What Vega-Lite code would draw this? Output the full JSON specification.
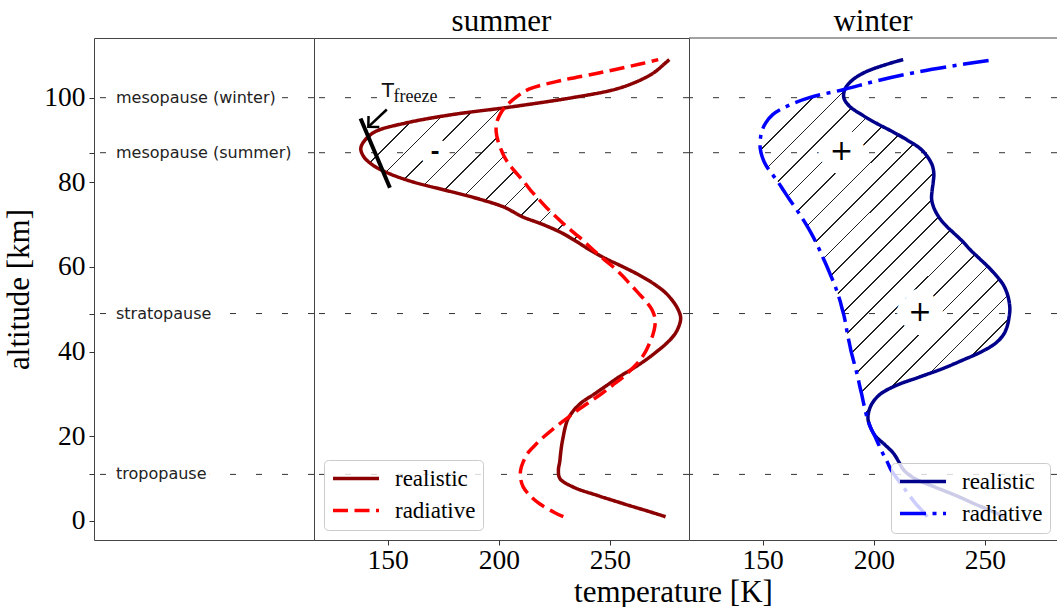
{
"$schema": "https://vega.github.io/schema/vega-lite/v6.json",
"padding": {"left": 3, "top": 5, "right": 0, "bottom": 0},
"background": "white",
"spacing": 0,
"bounds": "flush",
"config": {
  "font": "Liberation Serif",
  "view": {"stroke": "#444", "strokeWidth": 1},
  "axis": {"grid": false, "domain": false, "labelFont": "Liberation Serif", "labelFontSize": 27.5, "labelColor": "black", "tickColor": "#333", "tickSize": 5, "tickWidth": 1, "labelFlush": false, "labelOverlap": false, "titleFont": "Liberation Serif", "titleFontSize": 31, "titleFontWeight": "normal", "titleColor": "black"},
  "title": {"font": "Liberation Serif", "fontSize": 31, "fontWeight": "normal", "color": "black"},
  "legend": {"labelFont": "Liberation Serif", "labelFontSize": 23, "labelColor": "black", "symbolSize": 2116, "symbolStrokeWidth": 3.5, "symbolType": "stroke", "clipHeight": 23, "padding": 7, "rowPadding": 8, "labelOffset": 14, "fillColor": "rgba(255,255,255,0.8)", "strokeColor": "#cccccc", "cornerRadius": 4}
},
"datasets": {
  "levels": [
    {"name": "mesopause (winter)", "alt": 100},
    {"name": "mesopause (summer)", "alt": 87},
    {"name": "stratopause", "alt": 49},
    {"name": "tropopause", "alt": 11}
  ],
  "summer": [
    {"alt": 1, "realistic": 275, "radiative": 229},
    {"alt": 2, "realistic": 269, "radiative": 225},
    {"alt": 4, "realistic": 256.5, "radiative": 218.5},
    {"alt": 6, "realistic": 244.5, "radiative": 214},
    {"alt": 8, "realistic": 233.5, "radiative": 211},
    {"alt": 10, "realistic": 227.5, "radiative": 209.8},
    {"alt": 12, "realistic": 226.8, "radiative": 209.8},
    {"alt": 14, "realistic": 227.4, "radiative": 211},
    {"alt": 16, "realistic": 227.8, "radiative": 213},
    {"alt": 18, "realistic": 228.3, "radiative": 216.5},
    {"alt": 20, "realistic": 229, "radiative": 220.5},
    {"alt": 22, "realistic": 229.8, "radiative": 225},
    {"alt": 24, "realistic": 231, "radiative": 230},
    {"alt": 26, "realistic": 233.5, "radiative": 235},
    {"alt": 28, "realistic": 237.3, "radiative": 240.5},
    {"alt": 30, "realistic": 243, "radiative": 246},
    {"alt": 32, "realistic": 248.5, "radiative": 251},
    {"alt": 34, "realistic": 254, "radiative": 256},
    {"alt": 36, "realistic": 260.3, "radiative": 260},
    {"alt": 38, "realistic": 266, "radiative": 263.5},
    {"alt": 40, "realistic": 271, "radiative": 266},
    {"alt": 42, "realistic": 275.5, "radiative": 267.8},
    {"alt": 44, "realistic": 279, "radiative": 269.3},
    {"alt": 46, "realistic": 281, "radiative": 270.2},
    {"alt": 48, "realistic": 281.8, "radiative": 270.2},
    {"alt": 50, "realistic": 280.6, "radiative": 268.8},
    {"alt": 52, "realistic": 278.2, "radiative": 266},
    {"alt": 54, "realistic": 274.8, "radiative": 262.5},
    {"alt": 56, "realistic": 269.8, "radiative": 259},
    {"alt": 58, "realistic": 263.5, "radiative": 255.5},
    {"alt": 60, "realistic": 256, "radiative": 251.5},
    {"alt": 62, "realistic": 248, "radiative": 246.8},
    {"alt": 64, "realistic": 241, "radiative": 242.5},
    {"alt": 66, "realistic": 235, "radiative": 238.5},
    {"alt": 68, "realistic": 228.5, "radiative": 234},
    {"alt": 70, "realistic": 220, "radiative": 229.5},
    {"alt": 72, "realistic": 210, "radiative": 225.5},
    {"alt": 74, "realistic": 203, "radiative": 221.5},
    {"alt": 76, "realistic": 191.5, "radiative": 218},
    {"alt": 78, "realistic": 177, "radiative": 214.5},
    {"alt": 80, "realistic": 162, "radiative": 211.5},
    {"alt": 82, "realistic": 151, "radiative": 208.2},
    {"alt": 84, "realistic": 143.5, "radiative": 205},
    {"alt": 86, "realistic": 139.3, "radiative": 202.5},
    {"alt": 88, "realistic": 137.9, "radiative": 200.8},
    {"alt": 90, "realistic": 139.8, "radiative": 199.5},
    {"alt": 92, "realistic": 144.5, "radiative": 198.8},
    {"alt": 94, "realistic": 158, "radiative": 199},
    {"alt": 96, "realistic": 179, "radiative": 200.5},
    {"alt": 97.6, "realistic": 202.5, "radiative": 202.5},
    {"alt": 98, "realistic": 208, "radiative": 203.2},
    {"alt": 100, "realistic": 233, "radiative": 207.5},
    {"alt": 102, "realistic": 252.5, "radiative": 213.5},
    {"alt": 104, "realistic": 263, "radiative": 227.5},
    {"alt": 106, "realistic": 270, "radiative": 246.5},
    {"alt": 108, "realistic": 274.5, "radiative": 264},
    {"alt": 109, "realistic": 276.7, "radiative": 271.7}
  ],
  "winter": [
    {"alt": 1, "realistic": 258.5, "radiative": 224},
    {"alt": 2, "realistic": 254.5, "radiative": 222.5},
    {"alt": 4, "realistic": 245.5, "radiative": 219},
    {"alt": 6, "realistic": 237, "radiative": 216},
    {"alt": 8, "realistic": 227.5, "radiative": 213.3},
    {"alt": 10, "realistic": 218.5, "radiative": 210.5},
    {"alt": 12, "realistic": 213.5, "radiative": 207.8},
    {"alt": 14, "realistic": 211.2, "radiative": 206},
    {"alt": 16, "realistic": 208.8, "radiative": 204},
    {"alt": 18, "realistic": 205, "radiative": 202.2},
    {"alt": 20, "realistic": 200.8, "radiative": 200.5},
    {"alt": 22, "realistic": 198.6, "radiative": 198.6},
    {"alt": 24, "realistic": 197.4, "radiative": 197.2},
    {"alt": 26, "realistic": 197.8, "radiative": 196.2},
    {"alt": 28, "realistic": 199.5, "radiative": 195.3},
    {"alt": 30, "realistic": 203, "radiative": 194.5},
    {"alt": 32, "realistic": 210, "radiative": 193.6},
    {"alt": 34, "realistic": 220.5, "radiative": 192.8},
    {"alt": 36, "realistic": 231, "radiative": 191.8},
    {"alt": 38, "realistic": 240, "radiative": 190.8},
    {"alt": 40, "realistic": 248.5, "radiative": 189.8},
    {"alt": 42, "realistic": 254.8, "radiative": 189},
    {"alt": 44, "realistic": 258.3, "radiative": 188.2},
    {"alt": 46, "realistic": 260, "radiative": 187.5},
    {"alt": 48, "realistic": 260.8, "radiative": 186.8},
    {"alt": 50, "realistic": 261.2, "radiative": 185.8},
    {"alt": 52, "realistic": 260.8, "radiative": 184.8},
    {"alt": 54, "realistic": 259.8, "radiative": 183.6},
    {"alt": 56, "realistic": 258, "radiative": 182.2},
    {"alt": 58, "realistic": 255, "radiative": 180.6},
    {"alt": 60, "realistic": 251.5, "radiative": 179},
    {"alt": 62, "realistic": 247.5, "radiative": 177.3},
    {"alt": 64, "realistic": 243.5, "radiative": 175.6},
    {"alt": 66, "realistic": 240, "radiative": 173.8},
    {"alt": 68, "realistic": 236, "radiative": 171.8},
    {"alt": 70, "realistic": 232, "radiative": 169.6},
    {"alt": 72, "realistic": 229, "radiative": 167.2},
    {"alt": 74, "realistic": 227, "radiative": 164.7},
    {"alt": 76, "realistic": 226, "radiative": 162},
    {"alt": 78, "realistic": 226.2, "radiative": 159.5},
    {"alt": 80, "realistic": 226.7, "radiative": 157},
    {"alt": 82, "realistic": 227, "radiative": 154.2},
    {"alt": 84, "realistic": 226.3, "radiative": 151.5},
    {"alt": 86, "realistic": 224.2, "radiative": 149.8},
    {"alt": 88, "realistic": 220.8, "radiative": 148.9},
    {"alt": 90, "realistic": 215, "radiative": 148.9},
    {"alt": 92, "realistic": 208.3, "radiative": 149.6},
    {"alt": 94, "realistic": 201, "radiative": 151.3},
    {"alt": 96, "realistic": 194.5, "radiative": 154.5},
    {"alt": 98, "realistic": 189, "radiative": 161},
    {"alt": 100, "realistic": 186.5, "radiative": 171},
    {"alt": 102, "realistic": 187, "radiative": 187},
    {"alt": 104, "realistic": 190, "radiative": 201.5},
    {"alt": 106, "realistic": 196, "radiative": 219},
    {"alt": 108, "realistic": 206.5, "radiative": 241.5},
    {"alt": 109, "realistic": 213.2, "radiative": 254.5}
  ],
  "summer_signs": [{"T": 171.3, "alt": 87.2, "sign": "-"}],
  "winter_signs": [{"T": 185.5, "alt": 87.2, "sign": "+"}, {"T": 220.8, "alt": 49.1, "sign": "+"}],
  "freeze_marks": [
    {"part": "bar", "T1": 137.8, "a1": 95.1, "T2": 151, "a2": 78.7},
    {"part": "arrow", "T1": 149.6, "a1": 97.2, "T2": 141.3, "a2": 93.1}
  ],
  "freeze_label": [
    {"part": "T", "T": 147.3, "alt": 100.2, "txt": "T"},
    {"part": "sub", "T": 152.6, "alt": 99.0, "txt": "freeze"}
  ],
  "one": [{}]
},
"hconcat": [
  {
    "width": 220, "height": 502,
    "data": {"name": "levels"},
    "encoding": {
      "y": {"field": "alt", "type": "quantitative", "scale": {"domain": [-4.5, 114.1], "nice": false, "zero": false},
            "axis": {"values": [0, 11, 20, 40, 49, 60, 80, 87, 100], "labelExpr": "datum.value % 20 === 0 ? datum.label : ''", "title": "altitude [km]", "labelPadding": 4, "titlePadding": 8}}
    },
    "layer": [
      {"mark": {"type": "rule", "stroke": "#333", "strokeWidth": 1, "strokeDash": [6, 20]}, "encoding": {}},
      {"mark": {"type": "text", "align": "left", "baseline": "middle", "font": "DejaVu Sans", "fontSize": 16, "stroke": "white", "strokeWidth": 8, "strokeJoin": "round", "fill": "white"},
       "encoding": {"x": {"datum": 0.1, "type": "quantitative", "scale": {"domain": [0, 1]}, "axis": null}, "text": {"field": "name"}}},
      {"mark": {"type": "text", "align": "left", "baseline": "middle", "font": "DejaVu Sans", "fontSize": 16, "fill": "#222"},
       "encoding": {"x": {"datum": 0.1, "type": "quantitative", "scale": {"domain": [0, 1]}, "axis": null}, "text": {"field": "name"}}}
    ]
  },
  {
    "width": 375, "height": 502,
    "title": {"text": "summer", "baseline": "alphabetic", "offset": -24, "anchor": "middle"},
    "layer": [
      {"data": {"name": "levels"}, "mark": {"type": "rule", "stroke": "#333", "strokeWidth": 1, "strokeDash": [6, 20]},
       "encoding": {"y": {"field": "alt", "type": "quantitative", "scale": {"domain": [-4.5, 114.1], "nice": false, "zero": false}, "axis": null}}},
      {"data": {"name": "summer"}, "transform": [{"filter": "datum.alt >= 66 && datum.alt <= 97.6"}],
       "mark": {"type": "area", "orient": "horizontal", "interpolate": "catmull-rom", "opacity": 1,
         "fill": {"gradient": "linear", "x1": 0, "y1": 0, "x2": 1.177, "y2": 0.7043, "stops": [
           {"offset": 0, "color": "rgba(0,0,0,0)"},
           {"offset": 0.0335, "color": "rgba(0,0,0,0)"}, {"offset": 0.0335, "color": "#222"}, {"offset": 0.0379, "color": "#222"}, {"offset": 0.0379, "color": "rgba(0,0,0,0)"},
           {"offset": 0.1049, "color": "rgba(0,0,0,0)"}, {"offset": 0.1049, "color": "#222"}, {"offset": 0.1093, "color": "#222"}, {"offset": 0.1093, "color": "rgba(0,0,0,0)"},
           {"offset": 0.1764, "color": "rgba(0,0,0,0)"}, {"offset": 0.1764, "color": "#222"}, {"offset": 0.1808, "color": "#222"}, {"offset": 0.1808, "color": "rgba(0,0,0,0)"},
           {"offset": 0.2478, "color": "rgba(0,0,0,0)"}, {"offset": 0.2478, "color": "#222"}, {"offset": 0.2522, "color": "#222"}, {"offset": 0.2522, "color": "rgba(0,0,0,0)"},
           {"offset": 0.3192, "color": "rgba(0,0,0,0)"}, {"offset": 0.3192, "color": "#222"}, {"offset": 0.3236, "color": "#222"}, {"offset": 0.3236, "color": "rgba(0,0,0,0)"},
           {"offset": 0.3907, "color": "rgba(0,0,0,0)"}, {"offset": 0.3907, "color": "#222"}, {"offset": 0.3951, "color": "#222"}, {"offset": 0.3951, "color": "rgba(0,0,0,0)"},
           {"offset": 0.4621, "color": "rgba(0,0,0,0)"}, {"offset": 0.4621, "color": "#222"}, {"offset": 0.4665, "color": "#222"}, {"offset": 0.4665, "color": "rgba(0,0,0,0)"},
           {"offset": 0.5335, "color": "rgba(0,0,0,0)"}, {"offset": 0.5335, "color": "#222"}, {"offset": 0.5379, "color": "#222"}, {"offset": 0.5379, "color": "rgba(0,0,0,0)"},
           {"offset": 0.6049, "color": "rgba(0,0,0,0)"}, {"offset": 0.6049, "color": "#222"}, {"offset": 0.6093, "color": "#222"}, {"offset": 0.6093, "color": "rgba(0,0,0,0)"},
           {"offset": 0.6764, "color": "rgba(0,0,0,0)"}, {"offset": 0.6764, "color": "#222"}, {"offset": 0.6808, "color": "#222"}, {"offset": 0.6808, "color": "rgba(0,0,0,0)"},
           {"offset": 0.7478, "color": "rgba(0,0,0,0)"}, {"offset": 0.7478, "color": "#222"}, {"offset": 0.7522, "color": "#222"}, {"offset": 0.7522, "color": "rgba(0,0,0,0)"},
           {"offset": 0.8192, "color": "rgba(0,0,0,0)"}, {"offset": 0.8192, "color": "#222"}, {"offset": 0.8236, "color": "#222"}, {"offset": 0.8236, "color": "rgba(0,0,0,0)"},
           {"offset": 0.8907, "color": "rgba(0,0,0,0)"}, {"offset": 0.8907, "color": "#222"}, {"offset": 0.8951, "color": "#222"}, {"offset": 0.8951, "color": "rgba(0,0,0,0)"},
           {"offset": 0.9621, "color": "rgba(0,0,0,0)"}, {"offset": 0.9621, "color": "#222"}, {"offset": 0.9665, "color": "#222"}, {"offset": 0.9665, "color": "rgba(0,0,0,0)"},
           {"offset": 1, "color": "rgba(0,0,0,0)"}
         ]}},
       "encoding": {
         "y": {"field": "alt", "type": "quantitative", "scale": {"domain": [-4.5, 114.1], "nice": false, "zero": false}, "axis": null},
         "x": {"field": "radiative", "type": "quantitative", "scale": {"domain": [116.85, 285.55], "nice": false, "zero": false}, "axis": {"values": [150, 200, 250], "title": null, "labelPadding": 1}},
         "x2": {"field": "realistic"}
       }},
      {"data": {"name": "summer_signs"},
       "mark": {"type": "text", "font": "DejaVu Sans", "fontWeight": "bold", "fontSize": 22, "align": "center", "baseline": "middle", "stroke": "white", "strokeWidth": 22, "strokeJoin": "round", "fill": "white"},
       "encoding": {
         "x": {"field": "T", "type": "quantitative", "scale": {"domain": [116.85, 285.55], "nice": false, "zero": false}, "axis": {"values": [150, 200, 250], "title": null, "labelPadding": 1}},
         "y": {"field": "alt", "type": "quantitative", "scale": {"domain": [-4.5, 114.1], "nice": false, "zero": false}, "axis": null},
         "text": {"field": "sign"}}},
      {"data": {"name": "summer_signs"},
       "mark": {"type": "text", "font": "DejaVu Sans", "fontWeight": "bold", "fontSize": 22, "align": "center", "baseline": "middle", "fill": "black"},
       "encoding": {
         "x": {"field": "T", "type": "quantitative", "scale": {"domain": [116.85, 285.55], "nice": false, "zero": false}, "axis": {"values": [150, 200, 250], "title": null, "labelPadding": 1}},
         "y": {"field": "alt", "type": "quantitative", "scale": {"domain": [-4.5, 114.1], "nice": false, "zero": false}, "axis": null},
         "text": {"field": "sign"}}},
      {"data": {"name": "summer"}, "transform": [{"fold": ["realistic", "radiative"], "as": ["kind", "T"]}],
       "mark": {"type": "line", "strokeWidth": 3.5, "interpolate": "catmull-rom"},
       "encoding": {
         "x": {"field": "T", "type": "quantitative", "scale": {"domain": [116.85, 285.55], "nice": false, "zero": false}, "axis": {"values": [150, 200, 250], "title": null, "labelPadding": 1}},
         "y": {"field": "alt", "type": "quantitative", "scale": {"domain": [-4.5, 114.1], "nice": false, "zero": false}, "axis": null},
         "order": {"field": "alt", "type": "quantitative"},
         "color": {"field": "kind", "type": "nominal", "scale": {"domain": ["realistic", "radiative"], "range": ["#8b0000", "#ff0000"]}, "legend": {"title": null, "orient": "bottom-left", "offset": 10}},
         "strokeDash": {"field": "kind", "type": "nominal", "scale": {"domain": ["realistic", "radiative"], "range": [[1, 0], [15, 6.5]]}, "legend": {"title": null, "orient": "bottom-left", "offset": 10}}
       }},
      {"data": {"name": "freeze_marks"}, "transform": [{"filter": "datum.part === 'bar'"}],
       "mark": {"type": "rule", "stroke": "black", "strokeWidth": 4},
       "encoding": {
         "x": {"field": "T1", "type": "quantitative", "scale": {"domain": [116.85, 285.55], "nice": false, "zero": false}, "axis": {"values": [150, 200, 250], "title": null, "labelPadding": 1}},
         "x2": {"field": "T2"},
         "y": {"field": "a1", "type": "quantitative", "scale": {"domain": [-4.5, 114.1], "nice": false, "zero": false}, "axis": null},
         "y2": {"field": "a2"}}},
      {"data": {"name": "freeze_marks"}, "transform": [{"filter": "datum.part === 'arrow'"}],
       "mark": {"type": "rule", "stroke": "black", "strokeWidth": 2.5},
       "encoding": {
         "x": {"field": "T1", "type": "quantitative", "scale": {"domain": [116.85, 285.55], "nice": false, "zero": false}, "axis": {"values": [150, 200, 250], "title": null, "labelPadding": 1}},
         "x2": {"field": "T2"},
         "y": {"field": "a1", "type": "quantitative", "scale": {"domain": [-4.5, 114.1], "nice": false, "zero": false}, "axis": null},
         "y2": {"field": "a2"}}},
      {"data": {"name": "freeze_marks"}, "transform": [{"filter": "datum.part === 'arrow'"}],
       "mark": {"type": "point", "shape": "M -1 -1 L 0 0 L -1 1", "filled": false, "stroke": "black", "strokeWidth": 2.5, "size": 240, "angle": 136, "opacity": 1},
       "encoding": {
         "x": {"field": "T2", "type": "quantitative", "scale": {"domain": [116.85, 285.55], "nice": false, "zero": false}, "axis": {"values": [150, 200, 250], "title": null, "labelPadding": 1}},
         "y": {"field": "a2", "type": "quantitative", "scale": {"domain": [-4.5, 114.1], "nice": false, "zero": false}, "axis": null}}},
      {"data": {"name": "freeze_label"}, "transform": [{"filter": "datum.part === 'T'"}],
       "mark": {"type": "text", "font": "DejaVu Sans", "fontSize": 20, "align": "left", "baseline": "alphabetic", "stroke": "white", "strokeWidth": 7, "strokeJoin": "round", "fill": "white"},
       "encoding": {
         "x": {"field": "T", "type": "quantitative", "scale": {"domain": [116.85, 285.55], "nice": false, "zero": false}, "axis": {"values": [150, 200, 250], "title": null, "labelPadding": 1}},
         "y": {"field": "alt", "type": "quantitative", "scale": {"domain": [-4.5, 114.1], "nice": false, "zero": false}, "axis": null},
         "text": {"field": "txt"}}},
      {"data": {"name": "freeze_label"}, "transform": [{"filter": "datum.part === 'sub'"}],
       "mark": {"type": "text", "font": "Liberation Serif", "fontSize": 18, "align": "left", "baseline": "alphabetic", "stroke": "white", "strokeWidth": 7, "strokeJoin": "round", "fill": "white"},
       "encoding": {
         "x": {"field": "T", "type": "quantitative", "scale": {"domain": [116.85, 285.55], "nice": false, "zero": false}, "axis": {"values": [150, 200, 250], "title": null, "labelPadding": 1}},
         "y": {"field": "alt", "type": "quantitative", "scale": {"domain": [-4.5, 114.1], "nice": false, "zero": false}, "axis": null},
         "text": {"field": "txt"}}},
      {"data": {"name": "freeze_label"}, "transform": [{"filter": "datum.part === 'T'"}],
       "mark": {"type": "text", "font": "DejaVu Sans", "fontSize": 20, "align": "left", "baseline": "alphabetic", "fill": "#111"},
       "encoding": {
         "x": {"field": "T", "type": "quantitative", "scale": {"domain": [116.85, 285.55], "nice": false, "zero": false}, "axis": {"values": [150, 200, 250], "title": null, "labelPadding": 1}},
         "y": {"field": "alt", "type": "quantitative", "scale": {"domain": [-4.5, 114.1], "nice": false, "zero": false}, "axis": null},
         "text": {"field": "txt"}}},
      {"data": {"name": "freeze_label"}, "transform": [{"filter": "datum.part === 'sub'"}],
       "mark": {"type": "text", "font": "Liberation Serif", "fontSize": 18, "align": "left", "baseline": "alphabetic", "fill": "#111"},
       "encoding": {
         "x": {"field": "T", "type": "quantitative", "scale": {"domain": [116.85, 285.55], "nice": false, "zero": false}, "axis": {"values": [150, 200, 250], "title": null, "labelPadding": 1}},
         "y": {"field": "alt", "type": "quantitative", "scale": {"domain": [-4.5, 114.1], "nice": false, "zero": false}, "axis": null},
         "text": {"field": "txt"}}}
    ]
  },
  {
    "width": 368, "height": 502,
    "view": {"stroke": null},
    "title": {"text": "winter", "baseline": "alphabetic", "offset": -24, "anchor": "middle"},
    "layer": [
      {"data": {"name": "levels"}, "mark": {"type": "rule", "stroke": "#333", "strokeWidth": 1, "strokeDash": [6, 20]},
       "encoding": {"y": {"field": "alt", "type": "quantitative", "scale": {"domain": [-4.5, 114.1], "nice": false, "zero": false}, "axis": null}}},
      {"data": {"name": "one"}, "mark": {"type": "rule", "stroke": "#444", "strokeWidth": 1},
       "encoding": {"y": {"datum": 114.1, "type": "quantitative", "scale": {"domain": [-4.5, 114.1], "nice": false, "zero": false}, "axis": null}}},
      {"data": {"name": "winter"}, "transform": [{"filter": "datum.alt >= 22 && datum.alt <= 102"}],
       "mark": {"type": "area", "orient": "horizontal", "interpolate": "catmull-rom", "opacity": 1,
         "fill": {"gradient": "linear", "x1": 0, "y1": 0, "x2": 0.8297, "y2": 1.1256, "stops": [
           {"offset": 0, "color": "rgba(0,0,0,0)"},
           {"offset": 0.0194, "color": "rgba(0,0,0,0)"}, {"offset": 0.0194, "color": "#222"}, {"offset": 0.0222, "color": "#222"}, {"offset": 0.0222, "color": "rgba(0,0,0,0)"},
           {"offset": 0.0611, "color": "rgba(0,0,0,0)"}, {"offset": 0.0611, "color": "#222"}, {"offset": 0.0639, "color": "#222"}, {"offset": 0.0639, "color": "rgba(0,0,0,0)"},
           {"offset": 0.1028, "color": "rgba(0,0,0,0)"}, {"offset": 0.1028, "color": "#222"}, {"offset": 0.1056, "color": "#222"}, {"offset": 0.1056, "color": "rgba(0,0,0,0)"},
           {"offset": 0.1444, "color": "rgba(0,0,0,0)"}, {"offset": 0.1444, "color": "#222"}, {"offset": 0.1472, "color": "#222"}, {"offset": 0.1472, "color": "rgba(0,0,0,0)"},
           {"offset": 0.1861, "color": "rgba(0,0,0,0)"}, {"offset": 0.1861, "color": "#222"}, {"offset": 0.1889, "color": "#222"}, {"offset": 0.1889, "color": "rgba(0,0,0,0)"},
           {"offset": 0.2278, "color": "rgba(0,0,0,0)"}, {"offset": 0.2278, "color": "#222"}, {"offset": 0.2306, "color": "#222"}, {"offset": 0.2306, "color": "rgba(0,0,0,0)"},
           {"offset": 0.2694, "color": "rgba(0,0,0,0)"}, {"offset": 0.2694, "color": "#222"}, {"offset": 0.2722, "color": "#222"}, {"offset": 0.2722, "color": "rgba(0,0,0,0)"},
           {"offset": 0.3111, "color": "rgba(0,0,0,0)"}, {"offset": 0.3111, "color": "#222"}, {"offset": 0.3139, "color": "#222"}, {"offset": 0.3139, "color": "rgba(0,0,0,0)"},
           {"offset": 0.3528, "color": "rgba(0,0,0,0)"}, {"offset": 0.3528, "color": "#222"}, {"offset": 0.3556, "color": "#222"}, {"offset": 0.3556, "color": "rgba(0,0,0,0)"},
           {"offset": 0.3944, "color": "rgba(0,0,0,0)"}, {"offset": 0.3944, "color": "#222"}, {"offset": 0.3972, "color": "#222"}, {"offset": 0.3972, "color": "rgba(0,0,0,0)"},
           {"offset": 0.4361, "color": "rgba(0,0,0,0)"}, {"offset": 0.4361, "color": "#222"}, {"offset": 0.4389, "color": "#222"}, {"offset": 0.4389, "color": "rgba(0,0,0,0)"},
           {"offset": 0.4778, "color": "rgba(0,0,0,0)"}, {"offset": 0.4778, "color": "#222"}, {"offset": 0.4806, "color": "#222"}, {"offset": 0.4806, "color": "rgba(0,0,0,0)"},
           {"offset": 0.5194, "color": "rgba(0,0,0,0)"}, {"offset": 0.5194, "color": "#222"}, {"offset": 0.5222, "color": "#222"}, {"offset": 0.5222, "color": "rgba(0,0,0,0)"},
           {"offset": 0.5611, "color": "rgba(0,0,0,0)"}, {"offset": 0.5611, "color": "#222"}, {"offset": 0.5639, "color": "#222"}, {"offset": 0.5639, "color": "rgba(0,0,0,0)"},
           {"offset": 0.6028, "color": "rgba(0,0,0,0)"}, {"offset": 0.6028, "color": "#222"}, {"offset": 0.6056, "color": "#222"}, {"offset": 0.6056, "color": "rgba(0,0,0,0)"},
           {"offset": 0.6444, "color": "rgba(0,0,0,0)"}, {"offset": 0.6444, "color": "#222"}, {"offset": 0.6472, "color": "#222"}, {"offset": 0.6472, "color": "rgba(0,0,0,0)"},
           {"offset": 0.6861, "color": "rgba(0,0,0,0)"}, {"offset": 0.6861, "color": "#222"}, {"offset": 0.6889, "color": "#222"}, {"offset": 0.6889, "color": "rgba(0,0,0,0)"},
           {"offset": 0.7278, "color": "rgba(0,0,0,0)"}, {"offset": 0.7278, "color": "#222"}, {"offset": 0.7306, "color": "#222"}, {"offset": 0.7306, "color": "rgba(0,0,0,0)"},
           {"offset": 0.7694, "color": "rgba(0,0,0,0)"}, {"offset": 0.7694, "color": "#222"}, {"offset": 0.7722, "color": "#222"}, {"offset": 0.7722, "color": "rgba(0,0,0,0)"},
           {"offset": 0.8111, "color": "rgba(0,0,0,0)"}, {"offset": 0.8111, "color": "#222"}, {"offset": 0.8139, "color": "#222"}, {"offset": 0.8139, "color": "rgba(0,0,0,0)"},
           {"offset": 0.8528, "color": "rgba(0,0,0,0)"}, {"offset": 0.8528, "color": "#222"}, {"offset": 0.8556, "color": "#222"}, {"offset": 0.8556, "color": "rgba(0,0,0,0)"},
           {"offset": 0.8944, "color": "rgba(0,0,0,0)"}, {"offset": 0.8944, "color": "#222"}, {"offset": 0.8972, "color": "#222"}, {"offset": 0.8972, "color": "rgba(0,0,0,0)"},
           {"offset": 0.9361, "color": "rgba(0,0,0,0)"}, {"offset": 0.9361, "color": "#222"}, {"offset": 0.9389, "color": "#222"}, {"offset": 0.9389, "color": "rgba(0,0,0,0)"},
           {"offset": 0.9778, "color": "rgba(0,0,0,0)"}, {"offset": 0.9778, "color": "#222"}, {"offset": 0.9806, "color": "#222"}, {"offset": 0.9806, "color": "rgba(0,0,0,0)"},
           {"offset": 1, "color": "rgba(0,0,0,0)"}
         ]}},
       "encoding": {
         "y": {"field": "alt", "type": "quantitative", "scale": {"domain": [-4.5, 114.1], "nice": false, "zero": false}, "axis": null},
         "x": {"field": "radiative", "type": "quantitative", "scale": {"domain": [116.85, 282.4], "nice": false, "zero": false}, "axis": {"values": [150, 200, 250], "title": "temperature [K]", "titleX": -16, "titleY": 61, "titleBaseline": "alphabetic", "titleAlign": "center", "labelPadding": 1, "domain": true, "domainColor": "#444", "domainWidth": 1}},
         "x2": {"field": "realistic"}
       }},
      {"data": {"name": "winter_signs"},
       "mark": {"type": "text", "font": "DejaVu Sans", "fontSize": 28, "align": "center", "baseline": "middle", "stroke": "white", "strokeWidth": 28, "strokeJoin": "round", "fill": "white"},
       "encoding": {
         "x": {"field": "T", "type": "quantitative", "scale": {"domain": [116.85, 282.4], "nice": false, "zero": false}, "axis": {"values": [150, 200, 250], "title": "temperature [K]", "titleX": -16, "titleY": 61, "titleBaseline": "alphabetic", "titleAlign": "center", "labelPadding": 1, "domain": true, "domainColor": "#444", "domainWidth": 1}},
         "y": {"field": "alt", "type": "quantitative", "scale": {"domain": [-4.5, 114.1], "nice": false, "zero": false}, "axis": null},
         "text": {"field": "sign"}}},
      {"data": {"name": "winter_signs"},
       "mark": {"type": "text", "font": "DejaVu Sans", "fontSize": 28, "align": "center", "baseline": "middle", "fill": "black"},
       "encoding": {
         "x": {"field": "T", "type": "quantitative", "scale": {"domain": [116.85, 282.4], "nice": false, "zero": false}, "axis": {"values": [150, 200, 250], "title": "temperature [K]", "titleX": -16, "titleY": 61, "titleBaseline": "alphabetic", "titleAlign": "center", "labelPadding": 1, "domain": true, "domainColor": "#444", "domainWidth": 1}},
         "y": {"field": "alt", "type": "quantitative", "scale": {"domain": [-4.5, 114.1], "nice": false, "zero": false}, "axis": null},
         "text": {"field": "sign"}}},
      {"data": {"name": "winter"}, "transform": [{"fold": ["realistic", "radiative"], "as": ["kind", "T"]}],
       "mark": {"type": "line", "strokeWidth": 3.5, "interpolate": "catmull-rom"},
       "encoding": {
         "x": {"field": "T", "type": "quantitative", "scale": {"domain": [116.85, 282.4], "nice": false, "zero": false}, "axis": {"values": [150, 200, 250], "title": "temperature [K]", "titleX": -16, "titleY": 61, "titleBaseline": "alphabetic", "titleAlign": "center", "labelPadding": 1, "domain": true, "domainColor": "#444", "domainWidth": 1}},
         "y": {"field": "alt", "type": "quantitative", "scale": {"domain": [-4.5, 114.1], "nice": false, "zero": false}, "axis": null},
         "order": {"field": "alt", "type": "quantitative"},
         "color": {"field": "kind", "type": "nominal", "scale": {"domain": ["realistic", "radiative"], "range": ["#00008b", "#0000ff"]}, "legend": {"title": null, "orient": "bottom-right", "offset": 7}},
         "strokeDash": {"field": "kind", "type": "nominal", "scale": {"domain": ["realistic", "radiative"], "range": [[1, 0], [26, 6.5, 4, 6.5]]}, "legend": {"title": null, "orient": "bottom-right", "offset": 7}}
       }}
    ]
  }
],
"resolve": {
  "scale": {"x": "independent", "y": "independent", "color": "independent", "strokeDash": "independent"},
  "axis": {"x": "independent", "y": "independent"},
  "legend": {"color": "independent", "strokeDash": "independent"}
}
}
